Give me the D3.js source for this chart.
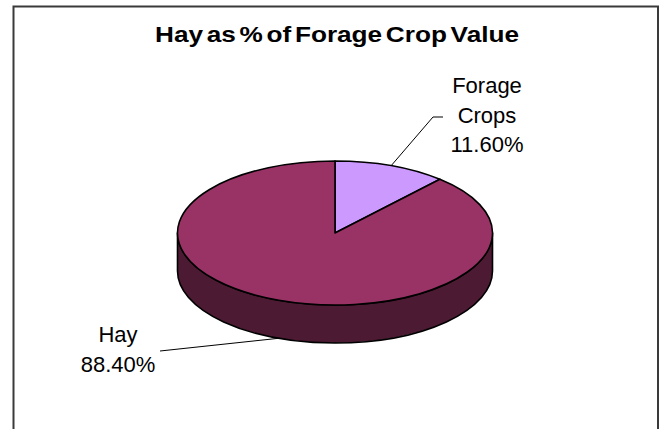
<!DOCTYPE html>
<html>
<head>
<meta charset="utf-8">
<script src="https://cdn.jsdelivr.net/npm/d3@7"></script>
<style>
  html, body { margin: 0; padding: 0; background: #fff; }
  svg { display: block; }
  text { font-family: "Liberation Sans", Arial, sans-serif; fill: #000; }
</style>
</head>
<body>
<svg id="chart" width="660" height="429"></svg>
<script>
// Share of forage crop value
const categories = ["Forage Crops", "Hay"];
const values = [11.6, 88.4];
const labelLines = [["Forage", "Crops", "11.60%"], ["Hay", "88.40%"]];
const title = "Hay as % of Forage Crop Value";

const topColors = { "Forage Crops": "#cc99ff", "Hay": "#993366" };
const sideColors = { "Forage Crops": "#664c80", "Hay": "#4d1a33" };

const W = 660, H = 429;
const svg = d3.select("#chart");

// chart frame (bottom edge runs past the viewport)
svg.append("rect")
  .attr("x", 13.5).attr("y", 6.5)
  .attr("width", 644.5).attr("height", 460)
  .attr("fill", "#fff").attr("stroke", "#3a3a3a").attr("stroke-width", 2);

svg.append("text")
  .attr("x", 337).attr("y", 42)
  .attr("text-anchor", "middle")
  .attr("textLength", 364).attr("lengthAdjust", "spacingAndGlyphs")
  .style("font-size", "22px").style("font-weight", "bold")
  .style("word-spacing", "-3px")
  .text(title);

// tilted pie geometry
const cx = 335, cy = 233, rx = 157.5, ry = 72, depth = 38;

const pie = d3.pie().sort(null).value(d => d.value).startAngle(0).endAngle(2 * Math.PI);
const arcs = pie(categories.map((c, i) => ({ name: c, value: values[i] })));

// angle measured clockwise from 12 o'clock, projected onto the ellipse
const px = a => cx + rx * Math.sin(a);
const py = (a, dy = 0) => cy - ry * Math.cos(a) + dy;

function topPath(a0, a1) {
  const large = (a1 - a0) > Math.PI ? 1 : 0;
  return `M${cx},${cy}L${px(a0)},${py(a0)}A${rx},${ry} 0 ${large} 1 ${px(a1)},${py(a1)}Z`;
}

function sidePath(a0, a1) {
  const large = (a1 - a0) > Math.PI ? 1 : 0;
  return `M${px(a0)},${py(a0)}A${rx},${ry} 0 ${large} 1 ${px(a1)},${py(a1)}` +
         `L${px(a1)},${py(a1, depth)}A${rx},${ry} 0 ${large} 0 ${px(a0)},${py(a0, depth)}Z`;
}

// front rim is visible between 90° and 270°
const frontLo = Math.PI / 2, frontHi = 3 * Math.PI / 2;
const g = svg.append("g");

arcs.forEach(d => {
  const a0 = Math.max(d.startAngle, frontLo), a1 = Math.min(d.endAngle, frontHi);
  if (a1 > a0) {
    g.append("path")
      .attr("d", sidePath(a0, a1))
      .attr("fill", sideColors[d.data.name])
      .attr("stroke", "#000").attr("stroke-width", 1.6).attr("stroke-linejoin", "round");
  }
});

arcs.forEach(d => {
  g.append("path")
    .attr("d", topPath(d.startAngle, d.endAngle))
    .attr("fill", topColors[d.data.name])
    .attr("stroke", "#000").attr("stroke-width", 1.6).attr("stroke-linejoin", "round");
});

// labels with leader lines
const labelSpecs = [
  { x: 487, y: 93, elbow: [[433, 117], [443, 117]], onBottom: false },
  { x: 118, y: 342, elbow: [[160, 351]], onBottom: true }
];

arcs.forEach((d, i) => {
  const spec = labelSpecs[i];
  const mid = (d.startAngle + d.endAngle) / 2;
  const start = [px(mid), py(mid, spec.onBottom ? depth : 0)];
  svg.append("path")
    .attr("d", d3.line()([start, ...spec.elbow]))
    .attr("fill", "none").attr("stroke", "#000").attr("stroke-width", 1);

  const t = svg.append("text")
    .attr("text-anchor", "middle")
    .style("font-size", "22px");
  labelLines[i].forEach((line, k) => {
    t.append("tspan").attr("x", spec.x).attr("y", spec.y + k * 29.5).text(line);
  });
});
</script>
</body>
</html>
